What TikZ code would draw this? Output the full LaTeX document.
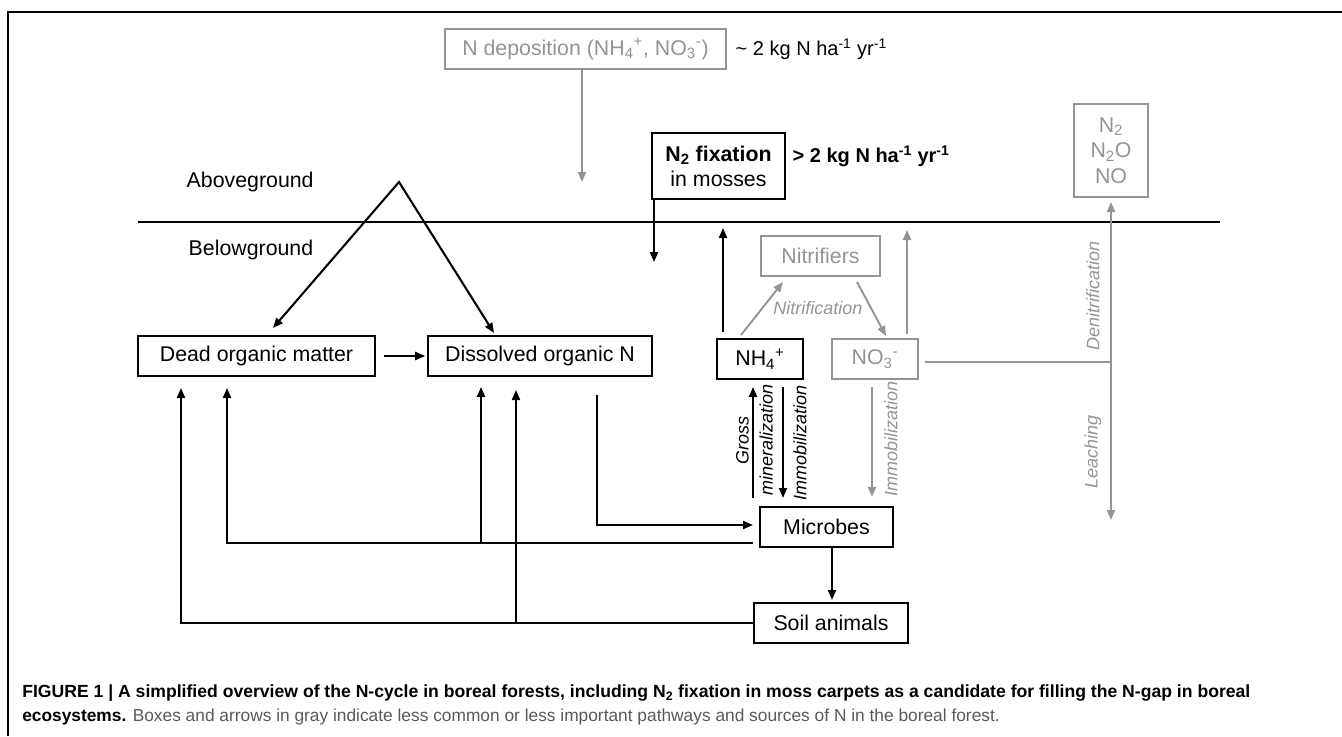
\documentclass[tikz,border=0pt]{standalone}
\usepackage{fontspec}
\setmainfont{Liberation Sans}
\usetikzlibrary{arrows.meta}
\definecolor{lg}{gray}{0.58}
\definecolor{capgray}{gray}{0.35}
\begin{document}
\begin{tikzpicture}[x=0.75pt,y=-0.75pt,
  font=\fontsize{16}{19}\selectfont,
  bx/.style={draw=black,line width=1.15pt,inner sep=0pt,minimum height=30pt},
  gbx/.style={bx,draw=lg,text=lg},
  tip/.tip={Triangle[length=7.5pt,width=6pt]},
  arr/.style={line width=1.55pt,-tip},
  garr/.style={line width=1.45pt,color=lg,-tip},
  gcon/.style={line width=1.45pt,color=lg},
  lab/.style={font=\fontsize{13.5}{18}\selectfont\itshape},
  rate/.style={anchor=west,font=\fontsize{15}{18}\selectfont},
]
\useasboundingbox (0,0) rectangle (1342,736);
% frame
\coordinate (fbl) at (8,736);
\coordinate (ftl) at (8,12);
\coordinate (ftr) at (1342,12);
\draw[line width=1.9pt,line join=miter] (fbl) -- (ftl) -- (ftr);

% ground line
\coordinate (gl) at (138,222);
\coordinate (gr) at (1220,222);
\draw[line width=1.9pt] (gl) -- (gr);
\node[anchor=west] (above) at (182,182) {Aboveground};
\node[anchor=west] (below) at (184,250) {Belowground};

% nodes
\node[gbx,minimum width=210.75pt] (ndep) at (585.5,49) {N deposition (NH\textsubscript{4}\textsuperscript{+}, NO\textsubscript{3}\textsuperscript{-})};
\node[rate] (ndeprate) at (731,49) {\textasciitilde{} 2 kg N ha\textsuperscript{-1} yr\textsuperscript{-1}};
\node[bx,minimum width=99.75pt,minimum height=49.5pt,align=center,font=\fontsize{16}{18.75}\selectfont] (fix) at (718.5,166) {\textbf{N\textsubscript{2} fixation}\\in mosses};
\node[rate,font=\bfseries\fontsize{15}{18}\selectfont] (fixrate) at (788,156) {> 2 kg N ha\textsuperscript{-1} yr\textsuperscript{-1}};
\node[gbx,minimum width=55.5pt,minimum height=69.75pt,align=center,font=\fontsize{16}{19}\selectfont] (gas) at (1111,150.5) {N\textsubscript{2}\\N\textsubscript{2}O\\NO};

\node[bx,minimum width=177.75pt] (dom) at (256.5,356) {Dead organic matter};
\node[bx,minimum width=168pt] (don) at (540,356) {Dissolved organic N};
\node[bx,minimum width=64.5pt] (nh4) at (760,359) {NH\textsubscript{4}\textsuperscript{+}};
\node[gbx,minimum width=89.25pt] (nit) at (820.5,256) {Nitrifiers};
\node[gbx,minimum width=64.5pt] (no3) at (875,359) {NO\textsubscript{3}\textsuperscript{-}};
\node[bx,minimum width=99.75pt] (mic) at (826.5,527) {Microbes};
\node[bx,minimum width=115.5pt] (soil) at (831,623) {Soil animals};

% coordinates for free ends
\coordinate (ndtip) at (582,182);
\coordinate (fixtip) at (654,262);
\coordinate (apex) at (399,182);
\coordinate (domin) at (273,328);
\coordinate (donin) at (494,333);
\coordinate (nh4up) at (723,228);
\coordinate (nh4nitA) at (741,335);
\coordinate (nh4nitB) at (783,282);
\coordinate (nitno3A) at (857,282);
\coordinate (nitno3B) at (886,336);
\coordinate (no3up) at (907,230);
\coordinate (no3out) at (925,362);
\coordinate (junc) at (1111,362);
\coordinate (gastip) at (1111,202);
\coordinate (leachtip) at (1111,520);
\coordinate (grossA) at (753,498);
\coordinate (grossB) at (753,387);
\coordinate (immA) at (783,387);
\coordinate (immB) at (783,498);
\coordinate (gimmA) at (872,387);
\coordinate (gimmB) at (872,497);
\coordinate (donout) at (597,395);
\coordinate (micin) at (753,525);
\coordinate (micout) at (753,543);
\coordinate (domup1) at (227,388);
\coordinate (donup1A) at (481,543);
\coordinate (donup1B) at (481,387);
\coordinate (domup2) at (181,388);
\coordinate (donup2A) at (516,624);
\coordinate (donup2B) at (516,390);
\coordinate (soiltip) at (832,600);

% connectors
\draw[garr] (ndep.south -| ndtip) -- (ndtip);
\draw[arr] (fix.south -| fixtip) -- (fixtip);
\draw[line width=1.55pt,line join=miter,tip-tip] (domin) -- (apex) -- (donin);
\draw[arr,shorten >=1.5pt] ([xshift=6pt]dom.east) -- (don.west);
\draw[arr] (nh4.north -| nh4up) ++(0,-6) -- (nh4up);
\draw[garr] (nh4nitA) -- (nh4nitB);
\draw[garr] (nitno3A) -- (nitno3B);
\draw[garr] (no3.north -| no3up) ++(0,-4) -- (no3up);
\draw[gcon] (no3out) -- (junc);
\draw[garr] (junc) -- (gastip);
\draw[garr] (junc) -- (leachtip);
\draw[arr] (grossA) -- (grossB);
\draw[arr] (immA) -- (immB);
\draw[garr] (gimmA) -- (gimmB);
\draw[arr] (donout) |- (micin);
\draw[arr] (micout) -| (domup1);
\draw[arr] (donup1A) -- (donup1B);
\draw[arr] (soil.west) -| (domup2);
\draw[arr] (donup2A) -- (donup2B);
\draw[arr] (mic.south -| soiltip) -- (soiltip);

% labels
\node[lab,text=lg] (nitlab) at (818,308) {Nitrification};
\node[lab,text=lg,rotate=90] (denlab) at (1093,296) {Denitrification};
\node[lab,text=lg,rotate=90] (leachlab) at (1093,452) {Leaching};
\node[lab,rotate=90,align=center] (grosslab) at (754.5,440) {Gross\\mineralization};
\node[lab,rotate=90] (immlab) at (800,443) {Immobilization};
\node[lab,text=lg,rotate=90] (gimmlab) at (891,439) {Immobilization};

% caption
\node[anchor=base west,inner sep=0pt,font=\bfseries\fontsize{13.2}{15}\selectfont] (cap1) at (22,697) {FIGURE 1 | A simplified overview of the N-cycle in boreal forests, including N\textsubscript{2} fixation in moss carpets as a candidate for filling the N-gap in boreal};
\node[anchor=base west,inner sep=0pt,font=\fontsize{13}{15}\selectfont] (cap2) at (22,721) {\textbf{ecosystems.} \textcolor{capgray}{Boxes and arrows in gray indicate less common or less important pathways and sources of N in the boreal forest.}};
\end{tikzpicture}
\end{document}
